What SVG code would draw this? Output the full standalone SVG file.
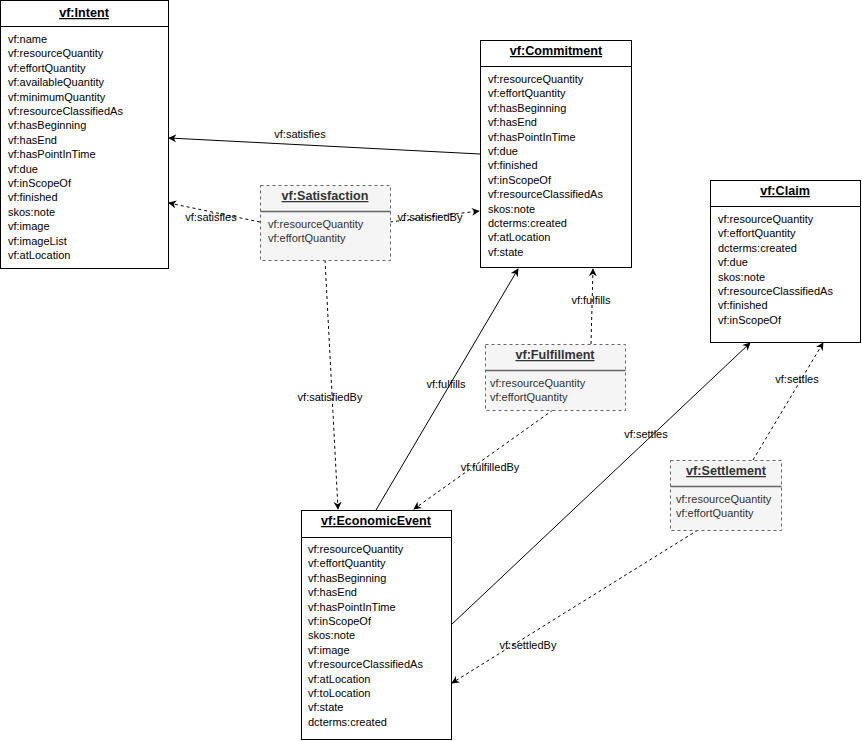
<svg xmlns="http://www.w3.org/2000/svg" width="862" height="741" viewBox="0 0 862 741">
<defs>
<marker id="ah" viewBox="0 0 10 10" refX="9" refY="5" markerWidth="8" markerHeight="8" markerUnits="userSpaceOnUse" orient="auto"><path d="M0,0 L10,5 L0,10 L3,5 z" fill="#000"/></marker>
<style>
.box{fill:#fff;stroke:#000;stroke-width:1}
.dbox{fill:#f5f5f5;stroke:#666;stroke-width:1;stroke-dasharray:3 3}
.sep{stroke:#000;stroke-width:1}
.dsep{stroke:#666;stroke-width:1.5}
.t{font-family:'Liberation Sans',Arial,sans-serif;font-size:12.6px;font-weight:bold;text-anchor:middle;text-decoration:underline;fill:#000}
.dt{font-family:'Liberation Sans',Arial,sans-serif;font-size:12.6px;font-weight:bold;text-anchor:middle;text-decoration:underline;fill:#333}
.i{font-family:'Liberation Sans',Arial,sans-serif;font-size:11px;fill:#000}
.di{font-family:'Liberation Sans',Arial,sans-serif;font-size:11px;fill:#333}
.l{font-family:'Liberation Sans',Arial,sans-serif;font-size:11px;fill:#000;text-anchor:middle}
.s{fill:none;stroke:#000;stroke-width:1}
.d{fill:none;stroke:#000;stroke-width:1;stroke-dasharray:3 3}
</style>
</defs>
<g id="connectors">
<path class="s" d="M480,154 L169,138" marker-end="url(#ah)"/>
<path class="d" d="M260,222 L169,203" marker-end="url(#ah)"/>
<path class="d" d="M390,222 L479,211" marker-end="url(#ah)"/>
<path class="d" d="M325,260 L338,509" marker-end="url(#ah)"/>
<path class="s" d="M376,510 L518,269" marker-end="url(#ah)"/>
<path class="d" d="M591,344 L593,269" marker-end="url(#ah)"/>
<path class="d" d="M553,410 L414,509" marker-end="url(#ah)"/>
<path class="s" d="M451,625 L750,343" marker-end="url(#ah)"/>
<path class="d" d="M753,460 L823,343" marker-end="url(#ah)"/>
<path class="d" d="M698,530 L452,683" marker-end="url(#ah)"/>
<text class="l" x="300" y="138">vf:satisfies</text>
<text class="l" x="211" y="221">vf:satisfies</text>
<text class="l" x="430" y="221">vf:satisfiedBy</text>
<text class="l" x="330" y="401">vf:satisfiedBy</text>
<text class="l" x="446" y="388">vf:fulfills</text>
<text class="l" x="591" y="304">vf:fulfills</text>
<text class="l" x="490" y="471">vf:fulfilledBy</text>
<text class="l" x="646" y="438">vf:settles</text>
<text class="l" x="797" y="383">vf:settles</text>
<text class="l" x="528" y="649">vf:settledBy</text>
</g>
<g id="intent">
<rect class="box" x="0.5" y="0.5" width="168" height="268"/>
<line class="sep" x1="0.5" y1="26.5" x2="168.5" y2="26.5"/>
<text class="t" x="84" y="17">vf:Intent</text>
<text class="i" x="8" y="43">vf:name</text>
<text class="i" x="8" y="57.4">vf:resourceQuantity</text>
<text class="i" x="8" y="71.8">vf:effortQuantity</text>
<text class="i" x="8" y="86.2">vf:availableQuantity</text>
<text class="i" x="8" y="100.6">vf:minimumQuantity</text>
<text class="i" x="8" y="115">vf:resourceClassifiedAs</text>
<text class="i" x="8" y="129.4">vf:hasBeginning</text>
<text class="i" x="8" y="143.8">vf:hasEnd</text>
<text class="i" x="8" y="158.2">vf:hasPointInTime</text>
<text class="i" x="8" y="172.6">vf:due</text>
<text class="i" x="8" y="187">vf:inScopeOf</text>
<text class="i" x="8" y="201.4">vf:finished</text>
<text class="i" x="8" y="215.8">skos:note</text>
<text class="i" x="8" y="230.2">vf:image</text>
<text class="i" x="8" y="244.6">vf:imageList</text>
<text class="i" x="8" y="259">vf:atLocation</text>
</g>
<g id="commitment">
<rect class="box" x="480.5" y="40.5" width="151" height="227"/>
<line class="sep" x1="480.5" y1="66.5" x2="631.5" y2="66.5"/>
<text class="t" x="556" y="55">vf:Commitment</text>
<text class="i" x="488" y="83">vf:resourceQuantity</text>
<text class="i" x="488" y="97.4">vf:effortQuantity</text>
<text class="i" x="488" y="111.8">vf:hasBeginning</text>
<text class="i" x="488" y="126.2">vf:hasEnd</text>
<text class="i" x="488" y="140.6">vf:hasPointInTime</text>
<text class="i" x="488" y="155">vf:due</text>
<text class="i" x="488" y="169.4">vf:finished</text>
<text class="i" x="488" y="183.8">vf:inScopeOf</text>
<text class="i" x="488" y="198.2">vf:resourceClassifiedAs</text>
<text class="i" x="488" y="212.6">skos:note</text>
<text class="i" x="488" y="227">dcterms:created</text>
<text class="i" x="488" y="241.4">vf:atLocation</text>
<text class="i" x="488" y="255.8">vf:state</text>
</g>
<g id="claim">
<rect class="box" x="710.5" y="180.5" width="150" height="162"/>
<line class="sep" x1="710.5" y1="206.5" x2="860.5" y2="206.5"/>
<text class="t" x="785" y="195">vf:Claim</text>
<text class="i" x="718" y="223">vf:resourceQuantity</text>
<text class="i" x="718" y="237.4">vf:effortQuantity</text>
<text class="i" x="718" y="251.8">dcterms:created</text>
<text class="i" x="718" y="266.2">vf:due</text>
<text class="i" x="718" y="280.6">skos:note</text>
<text class="i" x="718" y="295">vf:resourceClassifiedAs</text>
<text class="i" x="718" y="309.4">vf:finished</text>
<text class="i" x="718" y="323.8">vf:inScopeOf</text>
</g>
<g id="satisfaction">
<rect class="dbox" x="260.5" y="185.5" width="130" height="75"/>
<line class="dsep" x1="260.5" y1="211.5" x2="390.5" y2="211.5"/>
<text class="dt" x="325" y="200">vf:Satisfaction</text>
<text class="di" x="268" y="228">vf:resourceQuantity</text>
<text class="di" x="268" y="242.4">vf:effortQuantity</text>
</g>
<g id="fulfillment">
<rect class="dbox" x="485.5" y="344.5" width="140" height="66"/>
<line class="dsep" x1="485.5" y1="370.5" x2="625.5" y2="370.5"/>
<text class="dt" x="555" y="359">vf:Fulfillment</text>
<text class="di" x="490" y="387">vf:resourceQuantity</text>
<text class="di" x="490" y="401.4">vf:effortQuantity</text>
</g>
<g id="settlement">
<rect class="dbox" x="670.5" y="460.5" width="111" height="70"/>
<line class="dsep" x1="670.5" y1="486.5" x2="781.5" y2="486.5"/>
<text class="dt" x="726" y="475">vf:Settlement</text>
<text class="di" x="676" y="503">vf:resourceQuantity</text>
<text class="di" x="676" y="517.4">vf:effortQuantity</text>
</g>
<g id="economicEvent">
<rect class="box" x="301.5" y="510.5" width="150" height="229"/>
<line class="sep" x1="301.5" y1="537.5" x2="451.5" y2="537.5"/>
<text class="t" x="376" y="525">vf:EconomicEvent</text>
<text class="i" x="308" y="553">vf:resourceQuantity</text>
<text class="i" x="308" y="567.4">vf:effortQuantity</text>
<text class="i" x="308" y="581.8">vf:hasBeginning</text>
<text class="i" x="308" y="596.2">vf:hasEnd</text>
<text class="i" x="308" y="610.6">vf:hasPointInTime</text>
<text class="i" x="308" y="625">vf:inScopeOf</text>
<text class="i" x="308" y="639.4">skos:note</text>
<text class="i" x="308" y="653.8">vf:image</text>
<text class="i" x="308" y="668.2">vf:resourceClassifiedAs</text>
<text class="i" x="308" y="682.6">vf:atLocation</text>
<text class="i" x="308" y="697">vf:toLocation</text>
<text class="i" x="308" y="711.4">vf:state</text>
<text class="i" x="308" y="725.8">dcterms:created</text>
</g>
</svg>
